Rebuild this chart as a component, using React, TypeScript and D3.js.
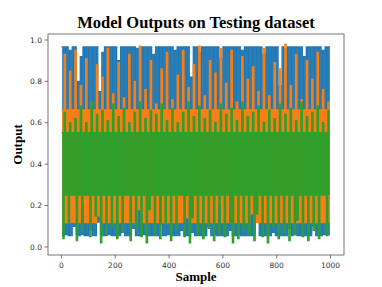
import * as d3 from "d3";

// one sample every 5 (200 points per series)
const sampleIdx = d3.range(0, 1000, 5);

const blueOut = [
  0.967, 0.055, 0.967, 0.06, 0.967, 0.055, 0.95, 0.055, 0.967, 0.1,
  0.967, 0.055, 0.8, 0.055, 0.92, 0.06, 0.967, 0.055, 0.967, 0.055,
  0.967, 0.08, 0.967, 0.055, 0.967, 0.055, 0.967, 0.12, 0.75, 0.055,
  0.94, 0.055, 0.967, 0.055, 0.967, 0.06, 0.967, 0.055, 0.967, 0.055,
  0.967, 0.055, 0.9, 0.055, 0.967, 0.07, 0.967, 0.055, 0.967, 0.055,
  0.967, 0.055, 0.967, 0.09, 0.967, 0.055, 0.96, 0.055, 0.967, 0.055,
  0.967, 0.06, 0.967, 0.055, 0.967, 0.055, 0.967, 0.055, 0.93, 0.055,
  0.967, 0.055, 0.967, 0.11, 0.967, 0.055, 0.967, 0.055, 0.967, 0.06,
  0.967, 0.055, 0.967, 0.055, 0.95, 0.055, 0.967, 0.055, 0.967, 0.08,
  0.967, 0.055, 0.967, 0.055, 0.967, 0.055, 0.82, 0.07, 0.967, 0.055,
  0.967, 0.055, 0.94, 0.055, 0.967, 0.055, 0.967, 0.055, 0.967, 0.1,
  0.967, 0.055, 0.967, 0.06, 0.967, 0.055, 0.967, 0.055, 0.91, 0.055,
  0.967, 0.055, 0.967, 0.055, 0.967, 0.08, 0.967, 0.055, 0.967, 0.055,
  0.967, 0.06, 0.967, 0.055, 0.95, 0.055, 0.967, 0.055, 0.967, 0.055,
  0.967, 0.055, 0.967, 0.055, 0.967, 0.12, 0.967, 0.055, 0.967, 0.055,
  0.93, 0.055, 0.967, 0.055, 0.967, 0.055, 0.967, 0.07, 0.967, 0.055,
  0.967, 0.055, 0.78, 0.055, 0.967, 0.055, 0.96, 0.055, 0.967, 0.09,
  0.967, 0.055, 0.967, 0.06, 0.967, 0.055, 0.967, 0.055, 0.967, 0.055,
  0.92, 0.055, 0.967, 0.055, 0.967, 0.055, 0.967, 0.1, 0.967, 0.055,
  0.967, 0.055, 0.967, 0.055, 0.95, 0.06, 0.967, 0.055, 0.967, 0.055,
];

const orangeOut = [
  0.662, 0.117, 0.93, 0.117, 0.662, 0.117, 0.85, 0.12, 0.662, 0.117,
  0.95, 0.117, 0.662, 0.117, 0.78, 0.2, 0.662, 0.117, 0.91, 0.117,
  0.662, 0.117, 0.7, 0.117, 0.662, 0.117, 0.88, 0.15, 0.662, 0.117,
  0.82, 0.117, 0.662, 0.117, 0.96, 0.117, 0.662, 0.117, 0.74, 0.117,
  0.662, 0.13, 0.89, 0.117, 0.662, 0.117, 0.72, 0.117, 0.662, 0.117,
  0.93, 0.117, 0.662, 0.117, 0.8, 0.117, 0.662, 0.18, 0.97, 0.117,
  0.662, 0.117, 0.76, 0.117, 0.662, 0.117, 0.9, 0.117, 0.662, 0.117,
  0.69, 0.117, 0.662, 0.25, 0.86, 0.117, 0.662, 0.117, 0.94, 0.117,
  0.662, 0.117, 0.71, 0.117, 0.662, 0.117, 0.83, 0.117, 0.662, 0.117,
  0.95, 0.117, 0.662, 0.14, 0.77, 0.117, 0.662, 0.117, 0.88, 0.117,
  0.662, 0.117, 0.97, 0.117, 0.662, 0.117, 0.73, 0.117, 0.662, 0.117,
  0.9, 0.117, 0.662, 0.117, 0.84, 0.117, 0.662, 0.2, 0.96, 0.117,
  0.662, 0.117, 0.79, 0.117, 0.662, 0.117, 0.95, 0.117, 0.662, 0.117,
  0.7, 0.117, 0.662, 0.117, 0.92, 0.117, 0.662, 0.117, 0.81, 0.117,
  0.662, 0.16, 0.87, 0.117, 0.662, 0.117, 0.75, 0.117, 0.662, 0.117,
  0.96, 0.117, 0.662, 0.117, 0.73, 0.117, 0.662, 0.117, 0.89, 0.117,
  0.662, 0.117, 0.86, 0.117, 0.662, 0.12, 0.98, 0.117, 0.662, 0.117,
  0.78, 0.117, 0.662, 0.117, 0.93, 0.117, 0.662, 0.117, 0.71, 0.117,
  0.662, 0.117, 0.9, 0.117, 0.662, 0.117, 0.81, 0.117, 0.662, 0.117,
  0.94, 0.117, 0.662, 0.117, 0.76, 0.117, 0.662, 0.117, 0.7, 0.117,
];

const greenOut = [
  0.552, 0.04, 0.65, 0.251, 0.552, 0.12, 0.6, 0.251, 0.552, 0.251,
  0.62, 0.03, 0.552, 0.251, 0.68, 0.08, 0.552, 0.251, 0.6, 0.251,
  0.552, 0.05, 0.7, 0.251, 0.552, 0.15, 0.64, 0.251, 0.552, 0.02,
  0.66, 0.251, 0.552, 0.06, 0.61, 0.251, 0.552, 0.1, 0.69, 0.251,
  0.552, 0.04, 0.63, 0.251, 0.552, 0.07, 0.67, 0.251, 0.552, 0.251,
  0.6, 0.03, 0.552, 0.251, 0.65, 0.09, 0.552, 0.251, 0.7, 0.05,
  0.552, 0.251, 0.62, 0.02, 0.552, 0.18, 0.66, 0.251, 0.552, 0.06,
  0.64, 0.251, 0.552, 0.04, 0.69, 0.251, 0.552, 0.11, 0.61, 0.251,
  0.552, 0.03, 0.67, 0.251, 0.552, 0.08, 0.6, 0.251, 0.552, 0.251,
  0.65, 0.05, 0.552, 0.251, 0.7, 0.02, 0.552, 0.14, 0.63, 0.251,
  0.552, 0.06, 0.68, 0.251, 0.552, 0.04, 0.62, 0.251, 0.552, 0.09,
  0.66, 0.251, 0.552, 0.03, 0.6, 0.251, 0.552, 0.07, 0.69, 0.251,
  0.552, 0.05, 0.64, 0.251, 0.552, 0.12, 0.67, 0.02, 0.552, 0.251,
  0.61, 0.04, 0.552, 0.251, 0.7, 0.08, 0.552, 0.251, 0.63, 0.06,
  0.552, 0.251, 0.65, 0.03, 0.552, 0.16, 0.68, 0.251, 0.552, 0.05,
  0.6, 0.251, 0.552, 0.02, 0.66, 0.251, 0.552, 0.1, 0.62, 0.251,
  0.552, 0.04, 0.69, 0.251, 0.552, 0.07, 0.64, 0.251, 0.552, 0.03,
  0.67, 0.251, 0.552, 0.06, 0.61, 0.13, 0.552, 0.251, 0.7, 0.05,
  0.552, 0.251, 0.63, 0.03, 0.552, 0.251, 0.65, 0.08, 0.552, 0.251,
  0.68, 0.04, 0.552, 0.251, 0.6, 0.251, 0.552, 0.06, 0.66, 0.251,
];

const xTicks = [0, 200, 400, 600, 800, 1000];
const yTicks = [0.0, 0.2, 0.4, 0.6, 0.8, 1.0];

const SERIES = [
  { values: blueOut, color: "#1f77b4" },
  { values: orangeOut, color: "#ff7f0e" },
  { values: greenOut, color: "#2ca02c" },
];

const W = 382;
const H = 287;
const PLOT = { left: 48, right: 344, top: 34, bottom: 255 };

const App = () => {
  const x = d3.scaleLinear().domain([-50, 1050]).range([PLOT.left, PLOT.right]);
  const y = d3.scaleLinear().domain([-0.039, 1.029]).range([PLOT.bottom, PLOT.top]);

  // step curve: at 1000 samples the reference lines are practically vertical
  const line = (vals: number[]) =>
    d3
      .line<number>()
      .x((_, i) => x(sampleIdx[i]))
      .y((d) => y(d))
      .curve(d3.curveStepAfter)(vals) ?? "";

  const tickFont = { fontFamily: "DejaVu Sans", fontSize: 7.5, fill: "#333" };

  return (
    <svg
      width={W}
      height={H}
      style={{ position: "absolute", left: 0, top: 0, background: "#fff" }}
    >
      <defs>
        <clipPath id="plotclip">
          <rect
            x={PLOT.left}
            y={PLOT.top}
            width={PLOT.right - PLOT.left}
            height={PLOT.bottom - PLOT.top}
          />
        </clipPath>
      </defs>

      <g clipPath="url(#plotclip)">
        {SERIES.map((s) => (
          <path
            key={s.color}
            d={line(s.values)}
            fill="none"
            stroke={s.color}
            strokeWidth={1.3}
          />
        ))}
      </g>

      <rect
        x={PLOT.left}
        y={PLOT.top}
        width={PLOT.right - PLOT.left}
        height={PLOT.bottom - PLOT.top}
        fill="none"
        stroke="#555"
        strokeWidth={0.8}
      />

      {xTicks.map((t) => (
        <g key={"x" + t} transform={`translate(${x(t)},${PLOT.bottom})`}>
          <line y2={3.5} stroke="#555" strokeWidth={0.8} />
          <text y={12.8} textAnchor="middle" {...tickFont}>
            {t}
          </text>
        </g>
      ))}

      {yTicks.map((t) => (
        <g key={"y" + t} transform={`translate(${PLOT.left},${y(t)})`}>
          <line x2={-3.5} stroke="#555" strokeWidth={0.8} />
          <text x={-6} dy="0.35em" textAnchor="end" {...tickFont}>
            {t.toFixed(1)}
          </text>
        </g>
      ))}

      <text
        x={196}
        y={28}
        textAnchor="middle"
        fontFamily="Liberation Serif"
        fontWeight="bold"
        fontSize={16.5}
      >
        Model Outputs on Testing dataset
      </text>
      <text
        x={196}
        y={281}
        textAnchor="middle"
        fontFamily="Liberation Serif"
        fontWeight="bold"
        fontSize={13}
      >
        Sample
      </text>
      <text
        transform={`translate(22,${(PLOT.top + PLOT.bottom) / 2}) rotate(-90)`}
        textAnchor="middle"
        fontFamily="Liberation Serif"
        fontWeight="bold"
        fontSize={13}
      >
        Output
      </text>
    </svg>
  );
};

export default App;
